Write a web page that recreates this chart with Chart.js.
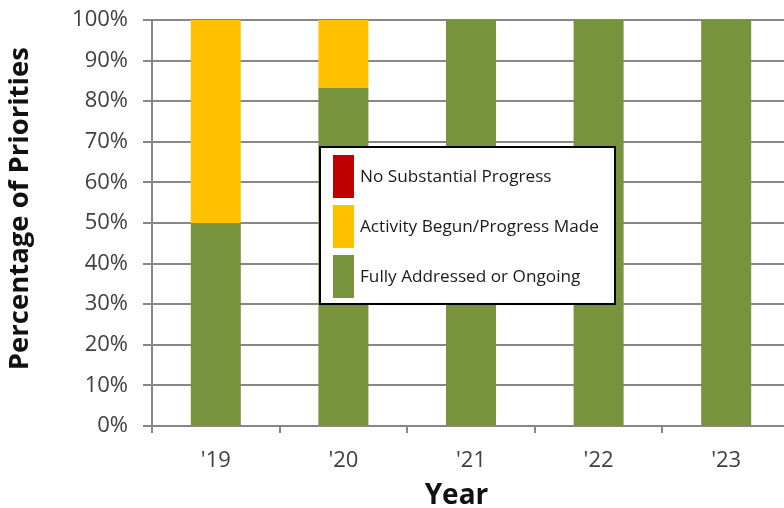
<!DOCTYPE html>
<html>
<head>
<meta charset="utf-8">
<script src="https://cdn.jsdelivr.net/npm/chart.js@4/dist/chart.umd.min.js"></script>
<style>
  html, body { margin: 0; padding: 0; background: #ffffff; overflow: hidden; }
  #wrap { width: 790px; height: 508px; }
</style>
</head>
<body>
<div id="wrap"><canvas id="chart" width="790" height="508"></canvas></div>
<script>
// Share of priorities by status, per year
const years = ["'19", "'20", "'21", "'22", "'23"];
const fullyAddressed = [50, 83.3, 100, 100, 100];
const activityBegun = [50, 16.7, 0, 0, 0];
const noProgress = [0, 0, 0, 0, 0];
const yTicks = [0, 10, 20, 30, 40, 50, 60, 70, 80, 90, 100];

const GREEN = '#77933c';
const YELLOW = '#ffc000';
const RED = '#c00000';
const GRID = '#878787';

// Boxed legend drawn on top of the plot, items listed top status first
const boxedLegend = {
  id: 'boxedLegend',
  afterDatasetsDraw(chart) {
    const { ctx, chartArea } = chart;
    const x = chartArea.left + 168;
    const y = chartArea.top + 127;
    const w = 295, h = 157;
    ctx.save();
    ctx.fillStyle = '#ffffff';
    ctx.fillRect(x, y, w, h);
    ctx.lineWidth = 2;
    ctx.strokeStyle = '#000000';
    ctx.strokeRect(x, y, w, h);
    const items = chart.data.datasets.slice().reverse();
    ctx.font = '17.2px "Open Sans", sans-serif';
    ctx.textBaseline = 'middle';
    ctx.textAlign = 'left';
    items.forEach((ds, i) => {
      const sy = y + 8 + i * 50;
      ctx.fillStyle = ds.backgroundColor;
      ctx.fillRect(x + 13, sy, 21, 43);
      ctx.fillStyle = '#1a1a1a';
      ctx.fillText(ds.label, x + 40, sy + 22);
    });
    ctx.restore();
  }
};

new Chart(document.getElementById('chart'), {
  type: 'bar',
  data: {
    labels: years,
    datasets: [
      { label: 'Fully Addressed or Ongoing', data: fullyAddressed, backgroundColor: GREEN },
      { label: 'Activity Begun/Progress Made', data: activityBegun, backgroundColor: YELLOW },
      { label: 'No Substantial Progress', data: noProgress, backgroundColor: RED }
    ]
  },
  options: {
    responsive: false,
    animation: false,
    devicePixelRatio: 1,
    layout: { padding: { top: 20, left: 0, right: 0, bottom: 0 } },
    datasets: { bar: { categoryPercentage: 1, barPercentage: 0.392, borderWidth: 0 } },
    plugins: { legend: { display: false }, tooltip: { enabled: false } },
    scales: {
      x: {
        stacked: true,
        offset: true,
        grid: { drawOnChartArea: false, drawTicks: true, tickLength: 7, offset: true, color: GRID, lineWidth: 2 },
        border: { display: true, color: GRID, width: 2 },
        ticks: { color: '#404040', padding: 15, font: { family: '"Open Sans", sans-serif', size: 22 } },
        title: {
          display: true,
          text: 'Year    ',
          color: '#111111',
          padding: { top: 0, bottom: 0 },
          font: { family: '"Open Sans", sans-serif', size: 28, weight: 'bold', lineHeight: 0.85 }
        },
        afterFit(scale) { scale.height = 82; }
      },
      y: {
        stacked: true,
        min: 0,
        max: 100,
        afterBuildTicks(scale) { scale.ticks = yTicks.map(v => ({ value: v })); },
        grid: { color: GRID, lineWidth: 2, tickLength: 9, drawTicks: true },
        border: { display: true, color: GRID, width: 2 },
        ticks: {
          color: '#404040',
          padding: 15,
          font: { family: '"Open Sans", sans-serif', size: 22 },
          callback: v => v + '%'
        },
        title: {
          display: true,
          text: '    Percentage of Priorities',
          color: '#111111',
          padding: { top: 4, bottom: 0 },
          font: { family: '"Open Sans", sans-serif', size: 27.5, weight: 'bold', lineHeight: 1.2 }
        },
        afterFit(scale) {
          scale.width = 152;
          scale.paddingTop = 0;
          scale.paddingBottom = 0;
        }
      }
    }
  },
  plugins: [boxedLegend]
});
</script>
</body>
</html>
